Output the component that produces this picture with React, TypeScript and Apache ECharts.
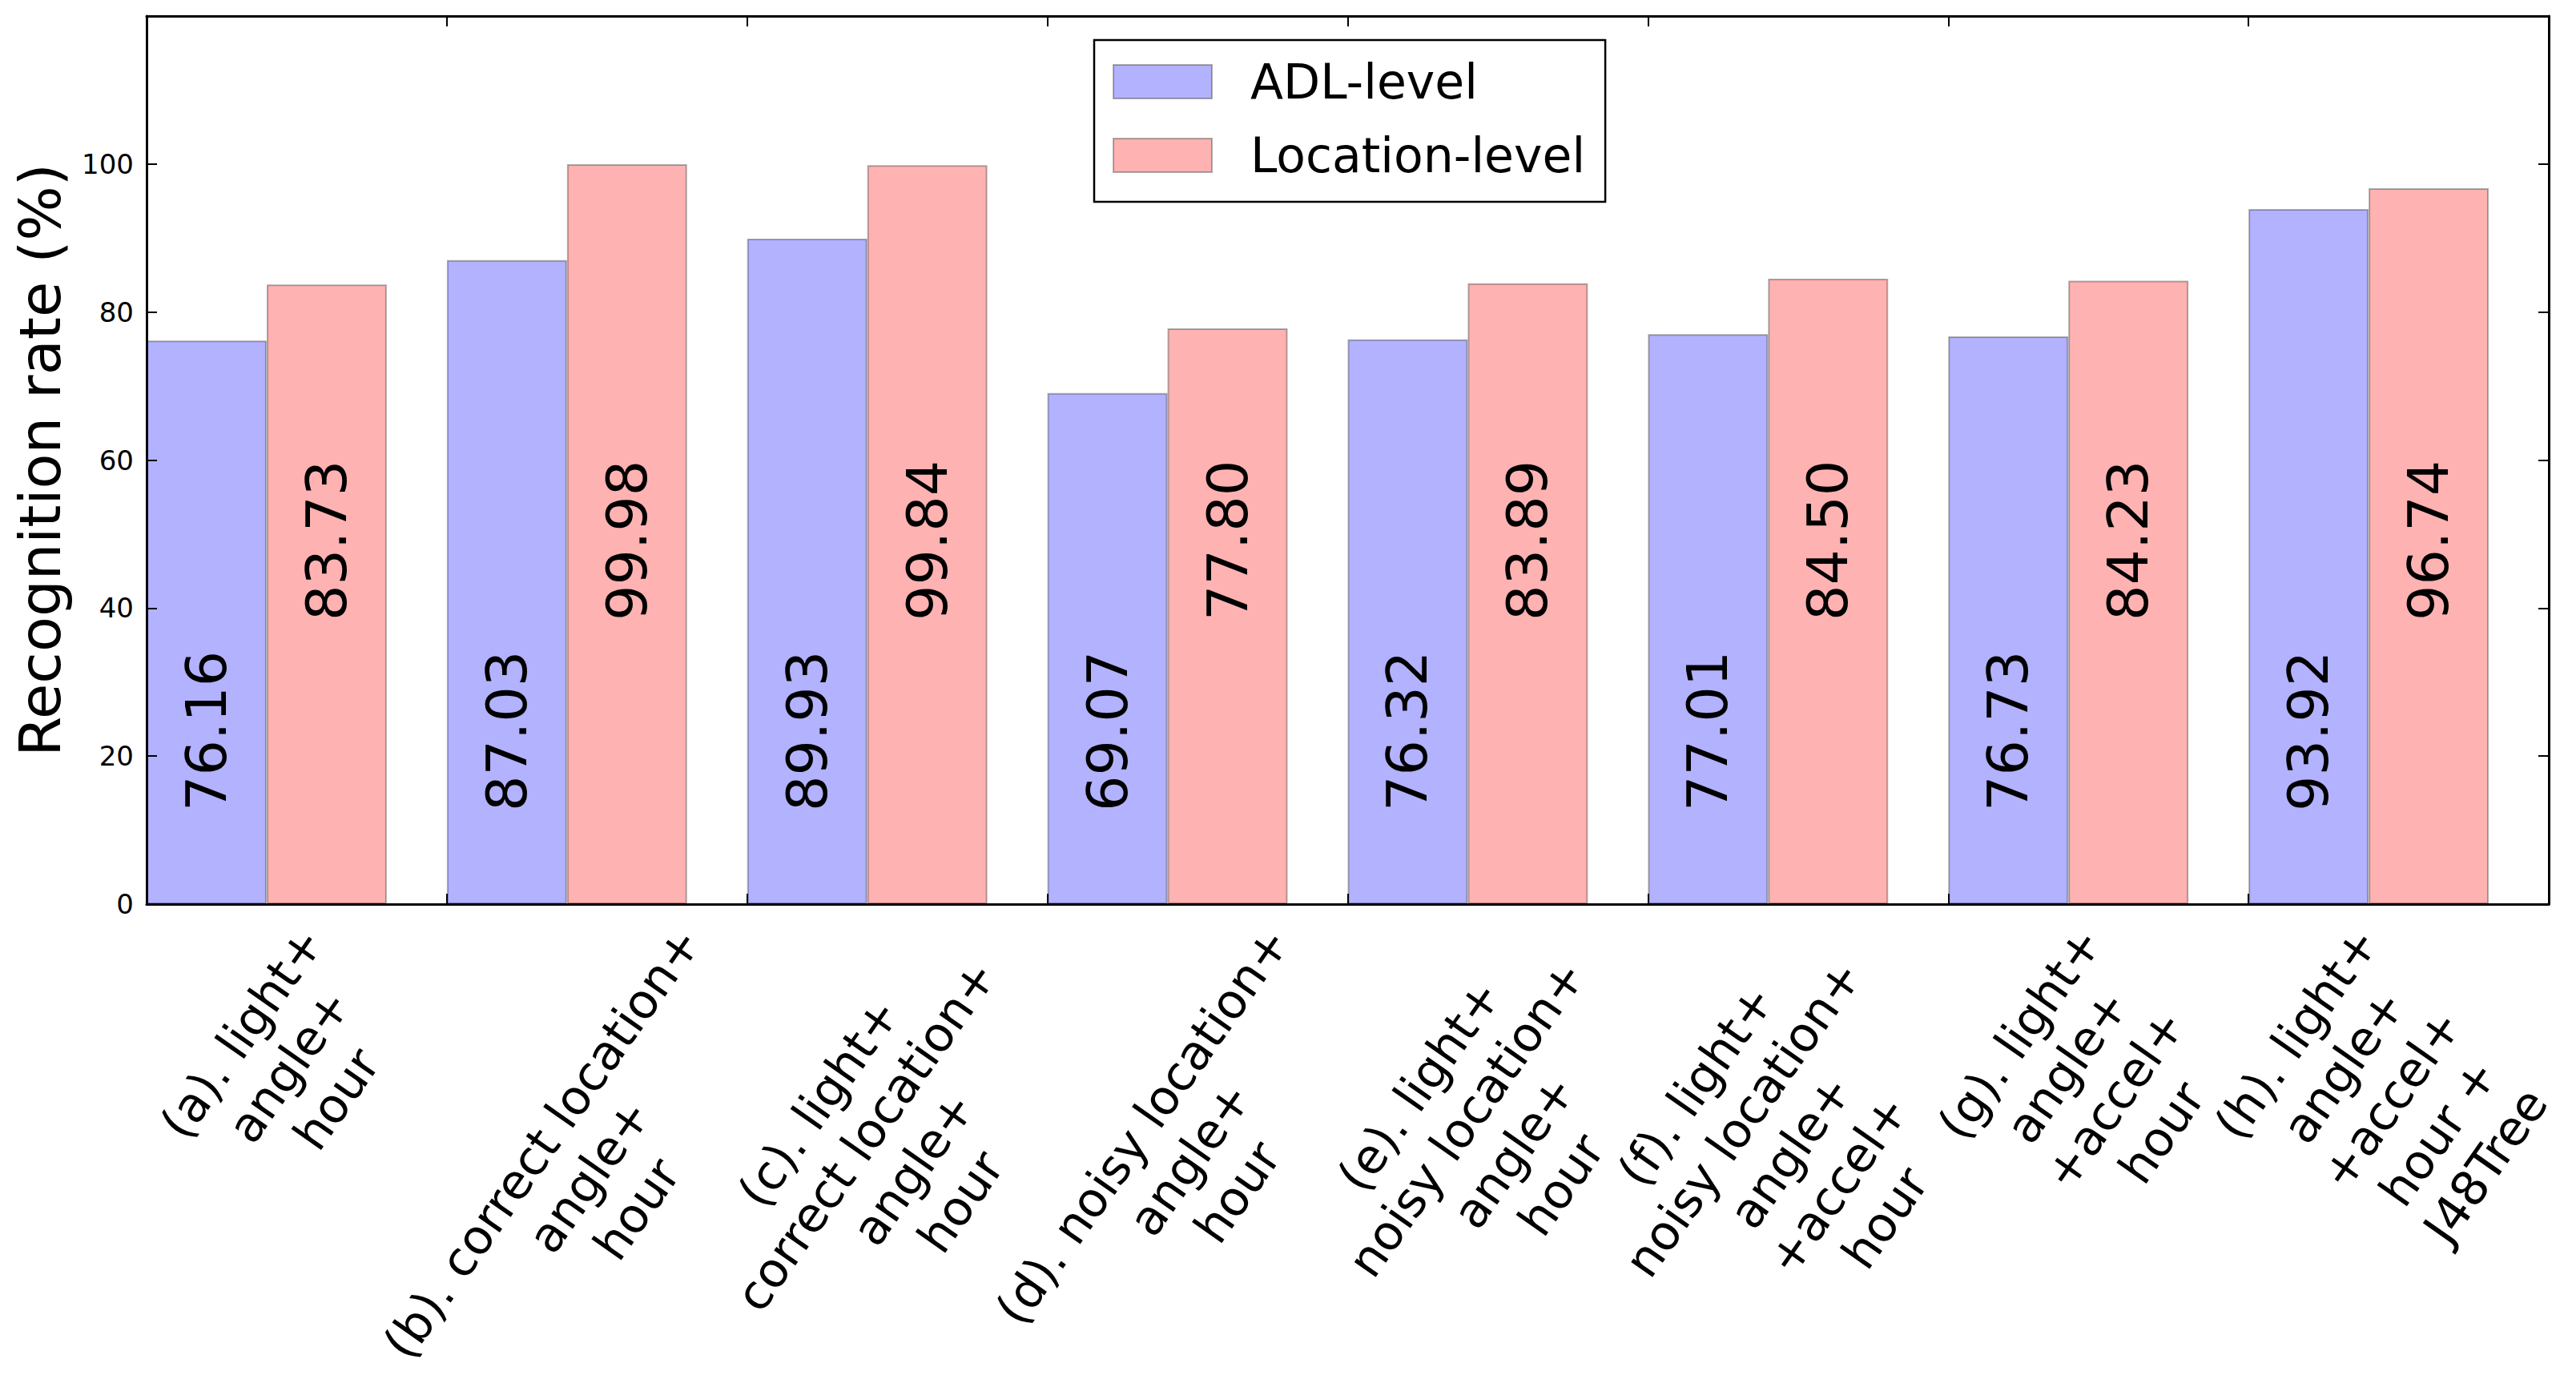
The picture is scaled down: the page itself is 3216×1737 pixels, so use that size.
import React, { useEffect, useRef } from 'react';
import * as echarts from 'echarts';

// ---------------- data ----------------
const categories: string[] = [
  '(a). light+\nangle+\nhour',
  '(b). correct location+\nangle+\nhour',
  '(c). light+\ncorrect location+\nangle+\nhour',
  '(d). noisy location+\nangle+\nhour',
  '(e). light+\nnoisy location+\nangle+\nhour',
  '(f). light+\nnoisy location+\nangle+\n+accel+\nhour',
  '(g). light+\nangle+\n+accel+\nhour',
  '(h). light+\nangle+\n+accel+\nhour +\nJ48Tree',
];
const adlLevel: number[] = [76.16, 87.03, 89.93, 69.07, 76.32, 77.01, 76.73, 93.92];
const locationLevel: number[] = [83.73, 99.98, 99.84, 77.8, 83.89, 84.5, 84.23, 96.74];
const seriesNames: string[] = ['ADL-level', 'Location-level'];
const yAxisTitle = 'Recognition rate (%)';
const yMin = 0;
const yMax = 120;
const yStep = 20;
const yHiddenTickLabels: number[] = [120];

// ---------------- layout / style ----------------
const W = 3200;
const H = 1721;
const GL = 175; // grid left
const GR = 3174; // grid right edge
const GT = 12; // grid top
const GB = 1121; // grid bottom edge
const FONT = 'DejaVu Sans';
const XFS = 60; // x label font size
const XLH = 72; // x label line height
const ROT = 55; // x label rotation (deg)
const PAD = 15; // gap between axis and rotated label box
const LABEL_DX = 28; // horizontal nudge of label centres

function measure(text: string, fs: number): number {
  const ctx = document.createElement('canvas').getContext('2d')!;
  ctx.font = `${fs}px "${FONT}"`;
  return ctx.measureText(text).width;
}

export default function App() {
  const ref = useRef<HTMLDivElement>(null);
  useEffect(() => {
    const el = ref.current!;
    const chart = echarts.init(el, null, { renderer: 'svg' });

    const axisLineStyle = { color: '#000', width: 3 };
    const tickStyle = { color: '#000', width: 2 };

    const barLabel = (distance: number) => ({
      show: true,
      position: 'insideBottom',
      distance,
      rotate: 90,
      align: 'left',
      verticalAlign: 'middle',
      fontSize: 70,
      fontFamily: FONT,
      color: '#000',
      formatter: (p: any) => Number(p.value).toFixed(2),
    });

    const option: any = {
      animation: false,
      backgroundColor: '#fff',
      textStyle: { fontFamily: FONT },
      grid: {
        left: GL,
        top: GT,
        width: GR - GL,
        height: GB - GT,
        containLabel: false,
        outerBoundsMode: 'none',
      },
      legend: {
        data: seriesNames,
        orient: 'vertical',
        left: 1358,
        top: 42,
        itemWidth: 123,
        itemHeight: 42,
        itemGap: 32,
        padding: [22, 25, 28, 23],
        borderColor: '#000',
        borderWidth: 2.5,
        borderRadius: 0,
        backgroundColor: '#fff',
        icon: 'rect',
        selectedMode: false,
        textStyle: { fontSize: 60, color: '#000', fontFamily: FONT, padding: [0, 0, 0, 43] },
        z: 20,
      },
      xAxis: [
        {
          type: 'category',
          position: 'bottom',
          data: categories,
          boundaryGap: true,
          z: 10,
          axisLine: { show: true, onZero: false, lineStyle: axisLineStyle },
          axisTick: { show: true, inside: true, length: 13, interval: 0, alignWithLabel: false, lineStyle: tickStyle },
          axisLabel: { show: false },
          splitLine: { show: false },
        },
        {
          type: 'category',
          position: 'top',
          data: categories,
          boundaryGap: true,
          z: 10,
          axisLine: { show: true, onZero: false, lineStyle: axisLineStyle },
          axisTick: { show: true, inside: true, length: 13, interval: 0, lineStyle: tickStyle },
          axisLabel: { show: false },
          splitLine: { show: false },
        },
      ],
      yAxis: [
        {
          type: 'value',
          position: 'left',
          min: yMin,
          max: yMax,
          interval: yStep,
          z: 10,
          name: yAxisTitle,
          nameLocation: 'middle',
          nameRotate: 90,
          nameGap: 97,
          nameMoveOverlap: false,
          nameTextStyle: { fontSize: 72, color: '#000', fontFamily: FONT },
          axisLine: { show: true, onZero: false, lineStyle: axisLineStyle },
          axisTick: { show: true, inside: true, length: 13, lineStyle: tickStyle },
          axisLabel: {
            show: true,
            margin: 16,
            fontSize: 34,
            fontFamily: FONT,
            color: '#000',
            formatter: (v: number) => (yHiddenTickLabels.includes(v) ? '' : String(v)),
          },
          splitLine: { show: false },
        },
        {
          type: 'value',
          position: 'right',
          min: yMin,
          max: yMax,
          interval: yStep,
          z: 10,
          axisLine: { show: true, onZero: false, lineStyle: axisLineStyle },
          axisTick: { show: true, inside: true, length: 13, lineStyle: tickStyle },
          axisLabel: { show: false },
          splitLine: { show: false },
        },
      ],
      series: [
        {
          name: seriesNames[0],
          type: 'bar',
          data: adlLevel,
          barWidth: '40%',
          barGap: '0%',
          itemStyle: { color: 'rgba(0,0,255,0.3)', borderColor: 'rgba(0,0,0,0.3)', borderWidth: 2 },
          label: barLabel(116),
          emphasis: { disabled: true },
        },
        {
          name: seriesNames[1],
          type: 'bar',
          data: locationLevel,
          barWidth: '40%',
          barGap: '0%',
          itemStyle: { color: 'rgba(255,0,0,0.3)', borderColor: 'rgba(0,0,0,0.3)', borderWidth: 2 },
          label: barLabel(354),
          emphasis: { disabled: true },
        },
        {
          name: 'spacer',
          type: 'bar',
          data: [],
          barWidth: '20%',
          barGap: '0%',
          silent: true,
        },
      ],
    };
    chart.setOption(option);

    // Rotated, centre-aligned multi-line category labels placed through the axis scale
    const th = (ROT * Math.PI) / 180;
    const sn = Math.sin(th);
    const px0 = chart.convertToPixel({ xAxisIndex: 0 }, 0) as number;
    const px1 = chart.convertToPixel({ xAxisIndex: 0 }, 1) as number;
    const band = px1 - px0;
    const axisY = chart.convertToPixel({ yAxisIndex: 0 }, 0) as number;
    const graphics = categories.map((txt, i) => {
      const lines = txt.split('\n');
      const wMax = Math.max(...lines.map((l) => measure(l, XFS)));
      const hBlock = lines.length * XLH;
      const bandCenter = chart.convertToPixel({ xAxisIndex: 0 }, i) as number;
      const cx = bandCenter - 0.1 * band + LABEL_DX;
      return {
        type: 'text',
        x: cx - (hBlock / 2) * sn,
        y: axisY + PAD + (wMax / 2) * sn,
        rotation: th,
        silent: true,
        z: 10,
        style: {
          text: txt,
          align: 'center',
          verticalAlign: 'top',
          fontSize: XFS,
          lineHeight: XLH,
          fontFamily: FONT,
          fill: '#000',
        },
      };
    });
    chart.setOption({ graphic: graphics });

    return () => chart.dispose();
  }, []);
  return <div ref={ref} style={{ width: W, height: H }} />;
}
